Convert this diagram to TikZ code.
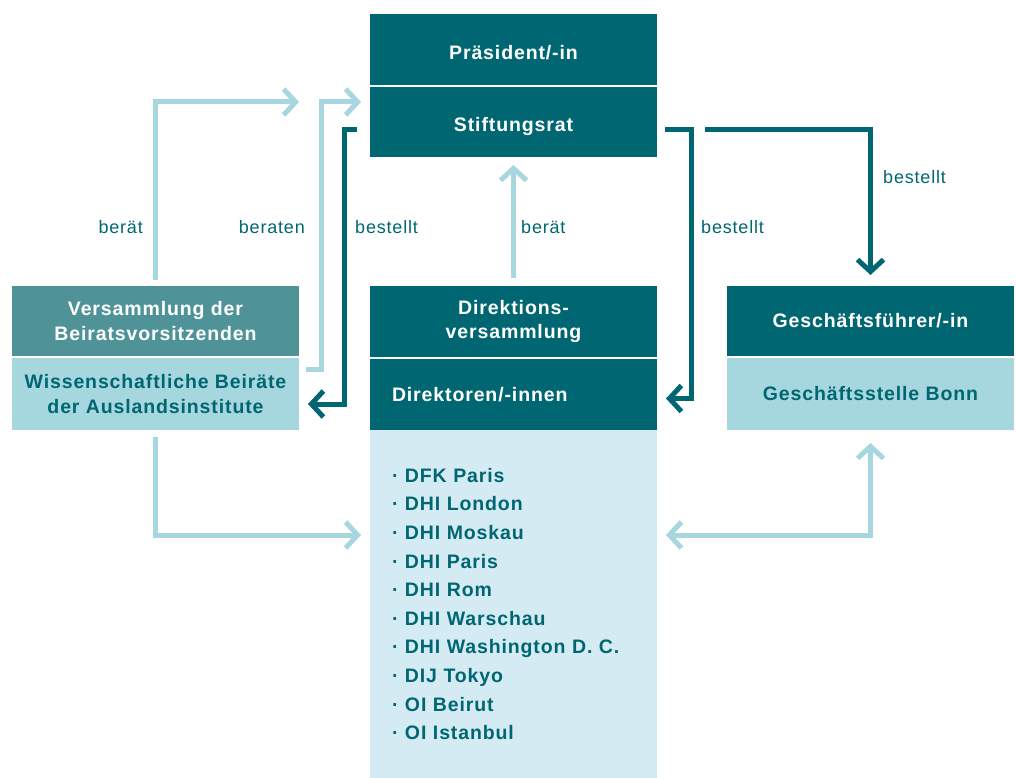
\documentclass[tikz,border=0pt]{standalone}
\usepackage{fontspec}
\setmainfont{Liberation Sans}[LetterSpace=4.5]
\usetikzlibrary{arrows.meta,calc}
\definecolor{tdark}{HTML}{006672}
\definecolor{tmid}{HTML}{4F9399}
\definecolor{tlight}{HTML}{A6D7DE}
\definecolor{tpale}{HTML}{D5EBF3}
\begin{document}
\begin{tikzpicture}[x=1pt,y=-1pt,
        box/.style={anchor=north west,minimum width=287pt,inner sep=0pt,outer sep=0pt,
            align=center,font=\bfseries\fontsize{19.5}{24.5}\selectfont},
        dark/.style={box,fill=tdark,text=white},
        mid/.style={box,fill=tmid,text=white},
        light/.style={box,fill=tlight,text=tdark},
        pale/.style={box,fill=tpale,text=tdark},
        larr/.style={draw=tlight,line width=5pt,-{Straight Barb[length=12pt,width=26pt]}},
        darr/.style={draw=tdark,line width=5pt,-{Straight Barb[length=12pt,width=26pt]}},
        lbl/.style={text=tdark,inner sep=0pt,font=\fontsize{18}{22}\selectfont}]
        \useasboundingbox (0,0) rectangle (1016,778);

        \node[dark,minimum height=71pt,text height=21pt,text depth=0pt] (praes) at (370,14) {Präsident/-in};
        \node[dark,minimum height=70pt,text height=20pt,text depth=0pt] (rat) at (370,87) {Stiftungsrat};

        \node[mid,minimum height=70pt] (vers) at (12,286) {Versammlung der\\Beiratsvorsitzenden};
        \node[light,minimum height=72pt] (beir) at (12,358) {Wissenschaftliche Beiräte\\der Auslandsinstitute};

        \node[dark,minimum height=71pt] (direk) at (370,286) {Direktions-\\versammlung};
        \node[dark,minimum height=71pt,text width=243pt,inner xsep=22pt,align=left] (dirin) at (370,359) {Direktoren/-innen};
        \node[pale,minimum height=348pt,text width=243pt,inner xsep=22pt,align=left,
            font=\bfseries\fontsize{19.5}{28.6}\selectfont] (list) at (370,430)
            {· DFK Paris\\· DHI London\\· DHI Moskau\\· DHI Paris\\· DHI Rom\\· DHI Warschau\\
             · DHI Washington D. C.\\· DIJ Tokyo\\· OI Beirut\\· OI Istanbul};

        \node[dark,minimum height=70pt] (gf) at (727,286) {Geschäftsführer/-in};
        \node[light,minimum height=72pt] (gs) at (727,358) {Geschäftsstelle Bonn};

        \draw[larr] ($(vers.north)+(0,-6)$) |- ($(rat.west)+(-71,-20)$);
        \draw[larr] ($(beir.east)+(7,-25)$) -- ++(15,0) |- ($(rat.west)+(-9,-20)$);
        \draw[darr] ($(rat.west)+(-13,8)$) -- ++(-13,0) |- ($(beir.east)+(9,10)$);
        \draw[larr] ($(direk.north)+(0,-8)$) -- ($(rat.south)+(0,8)$);
        \draw[darr] ($(rat.east)+(8,8)$) -- ++(26,0) |- ($(dirin.east)+(9,4)$);
        \draw[darr] ($(rat.east)+(48,8)$) -| ($(gf.north)+(0,-11)$);
        \draw[larr] ($(beir.south)+(0,7)$) |- ($(list.west)+(-9,-69)$);
        \draw[larr,{Straight Barb[length=12pt,width=26pt]}-{Straight Barb[length=12pt,width=26pt]}]
            ($(list.east)+(9,-69)$) -| ($(gs.south)+(0,13)$);

        \node[lbl,anchor=east] (l1) at (143,227) {berät};
        \node[lbl,anchor=east] (l2) at (305,227) {beraten};
        \node[lbl,anchor=west] (l3) at (355,227) {bestellt};
        \node[lbl,anchor=west] (l4) at (521,227) {berät};
        \node[lbl,anchor=west] (l5) at (701,227) {bestellt};
        \node[lbl,anchor=west] (l6) at (883,177) {bestellt};
    \end{tikzpicture}
\end{document}
